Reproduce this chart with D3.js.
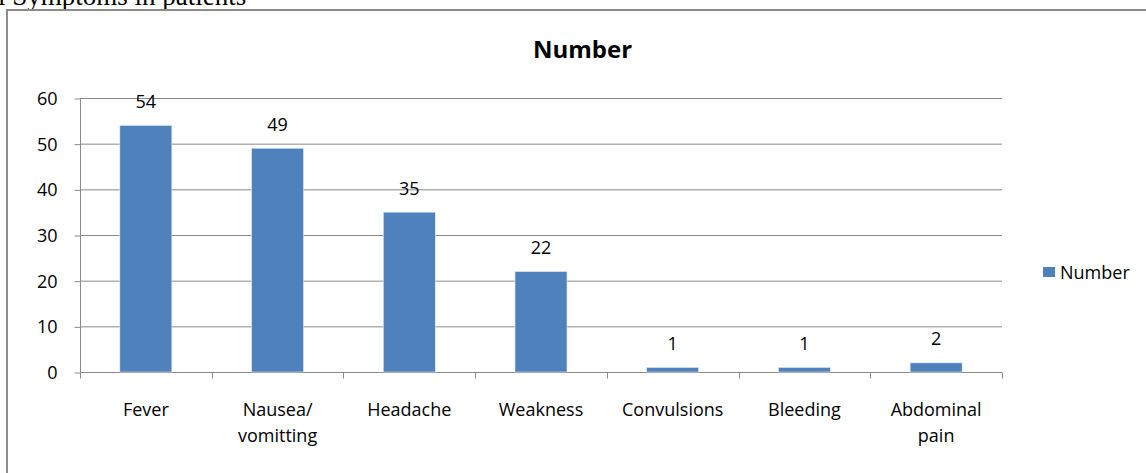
<!DOCTYPE html>
<html><head><meta charset="utf-8">
<script src="https://cdn.jsdelivr.net/npm/d3@7"></script>
<style>
body{margin:0;background:#fff;}
svg{display:block;}
</style></head>
<body>
<script>
const categories = [["Fever"],["Nausea/","vomitting"],["Headache"],["Weakness"],["Convulsions"],["Bleeding"],["Abdominal","pain"]];
const values = [54,49,35,22,1,1,2];
const valueLabels = ["54","49","35","22","1","1","2"];
const yTicks = [0,10,20,30,40,50,60];
const seriesName = "Number";

const W=1146,H=473;
const svg=d3.select("body").append("svg").attr("width",W).attr("height",H);
const font="'Open Sans', sans-serif";

// cut-off caption above the frame
svg.append("text").attr("x",-2).attr("y",4.5).attr("font-family","'Liberation Serif', serif")
  .attr("font-size",27).attr("fill","#000").text("l Symptoms in patients");

// outer frame
svg.append("path").attr("d",`M7,${H+5}V10H${W+5}`).attr("fill","none").attr("stroke","#8c8c8c").attr("stroke-width",2);

const m={l:80,r:1002,t:98,b:372};
const x=d3.scaleBand().domain(d3.range(categories.length)).range([m.l,m.r]).paddingInner(0.605).paddingOuter(0.3025);
const y=d3.scaleLinear().domain([0,60]).range([m.b,m.t]);

// gridlines
svg.append("g").selectAll("line").data(yTicks.slice(1)).join("line")
  .attr("x1",m.l).attr("x2",m.r).attr("y1",d=>y(d)+0.5).attr("y2",d=>y(d)+0.5)
  .attr("stroke","#8a8a8a").attr("stroke-width",1);

// y axis
const ya=svg.append("g").attr("transform",`translate(${m.l+0.5},0.5)`)
  .call(d3.axisLeft(y).tickValues(yTicks).tickSize(6).tickPadding(17).tickFormat(d3.format("d")));
ya.select(".domain").attr("stroke","#8a8a8a").attr("d",`M0,${m.t}V${m.b}`);
ya.selectAll(".tick line").attr("stroke","#8a8a8a");
ya.selectAll("text").attr("font-family",font).attr("font-size",18).attr("fill","#000").attr("dy","0.33em");

// x axis
const bandStep=x.step();
const xa=svg.append("g").attr("transform",`translate(0,${m.b+0.5})`);
xa.append("line").attr("x1",m.l).attr("x2",m.r).attr("stroke","#8a8a8a");
const bounds=d3.range(categories.length+1).map(i=>m.l+i*bandStep);
xa.selectAll(".tk").data(bounds).join("line").attr("class","tk")
  .attr("x1",d=>Math.round(d)+0.5).attr("x2",d=>Math.round(d)+0.5).attr("y1",0).attr("y2",6).attr("stroke","#8a8a8a");

// bars
svg.append("g").selectAll("rect").data(values).join("rect")
  .attr("x",(d,i)=>x(i)).attr("width",x.bandwidth())
  .attr("y",d=>y(d)).attr("height",d=>y(0)-y(d))
  .attr("fill","#4f81bd").attr("stroke","#e8eef7").attr("stroke-width",0.6);

// value labels
svg.append("g").selectAll("text").data(values).join("text")
  .attr("x",(d,i)=>x(i)+x.bandwidth()/2).attr("y",d=>y(d)-17.5)
  .attr("text-anchor","middle").attr("font-family",font).attr("font-size",18).attr("fill","#000")
  .text((d,i)=>valueLabels[i]);

// category labels
const cl=svg.append("g").selectAll("text").data(categories).join("text")
  .attr("x",(d,i)=>x(i)+x.bandwidth()/2).attr("y",416)
  .attr("text-anchor","middle").attr("font-family",font).attr("font-size",18).attr("fill","#000");
cl.selectAll("tspan").data(d=>d).join("tspan")
  .attr("x",function(){return this.parentNode.getAttribute("x");})
  .attr("dy",(d,i)=>i===0?0:25.5).text(d=>d);

// title
svg.append("text").attr("x",582.5).attr("y",58).attr("text-anchor","middle")
  .attr("font-family",font).attr("font-weight","bold").attr("font-size",24).attr("fill","#000").text(seriesName);

// legend
svg.append("rect").attr("x",1043).attr("y",267).attr("width",12).attr("height",10).attr("fill","#4f81bd");
svg.append("text").attr("x",1060).attr("y",279).attr("font-family",font).attr("font-size",18).attr("fill","#000").text(seriesName);
</script>
</body></html>
